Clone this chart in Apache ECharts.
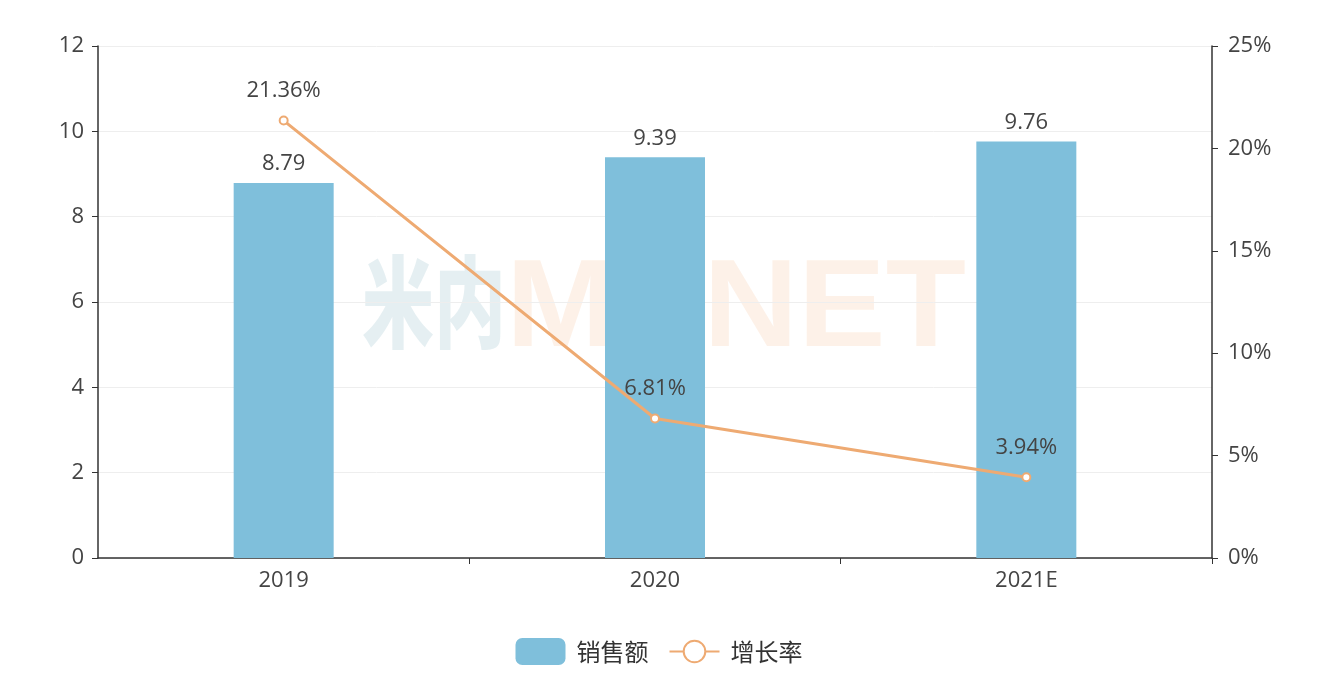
<!DOCTYPE html>
<html><head><meta charset="utf-8">
<script src="https://cdn.jsdelivr.net/npm/echarts@6/dist/echarts.min.js"></script>
<style>html,body{margin:0;padding:0;background:#fff}#c{width:1318px;height:692px}</style>
</head><body><div id="c"></div>
<script>
const categories = ['2019', '2020', '2021E'];
const sales = [8.79, 9.39, 9.76];
const growth = [21.36, 6.81, 3.94];
const leftTicks = [0, 12, 2];
const rightTicks = [0, 25, 5];

const font = '"Open Sans", "Noto Sans CJK SC", sans-serif';
const chart = echarts.init(document.getElementById('c'));
chart.setOption({
  animation: false,
  textStyle: { fontFamily: font },
  grid: { left: 98, right: 106, top: 46, bottom: 134 },
  legend: {
    bottom: 22, left: 'center', itemWidth: 50, itemHeight: 27, itemGap: 20,
    textStyle: { fontSize: 24, color: '#333', fontFamily: '"Noto Sans CJK SC", sans-serif', padding: [0, 0, 0, 6] },
    data: ['销售额', '增长率']
  },
  graphic: [{
    type: 'group', z: 100, silent: true,
    children: [
      { type: 'text', left: 362, top: 252, scaleX: 0.72, style: { text: '米内', font: '900 100px "Noto Sans CJK SC"', fill: 'rgba(150,190,205,0.25)' } },
      { type: 'text', left: 506, top: 250, scaleX: 1.06, style: { text: 'MENET', font: 'bold 124px "Liberation Sans", Arial', fill: 'rgba(245,175,130,0.18)' } }
    ]
  }],
  xAxis: {
    type: 'category', data: categories,
    axisLine: { lineStyle: { color: '#333', width: 1.5 } },
    axisTick: { show: true, length: 6, lineStyle: { color: '#333' }, interval: function (i) { return i > 0; } },
    axisLabel: { fontSize: 22, color: '#444', margin: 12 }
  },
  yAxis: [{
    type: 'value', min: leftTicks[0], max: leftTicks[1], interval: leftTicks[2],
    axisLine: { show: true, lineStyle: { color: '#333', width: 1.5 } },
    axisTick: { show: true, length: 6 },
    axisLabel: { fontSize: 22, color: '#444', margin: 14 },
    splitLine: { lineStyle: { color: '#eee' } }
  }, {
    type: 'value', min: rightTicks[0], max: rightTicks[1], interval: rightTicks[2],
    axisLine: { show: true, lineStyle: { color: '#333', width: 1.5 } },
    axisTick: { show: true, length: 6 },
    axisLabel: { fontSize: 22, color: '#444', margin: 16, formatter: '{value}%' },
    splitLine: { show: false }
  }],
  series: [{
    name: '销售额', type: 'bar', data: sales, barWidth: 100,
    itemStyle: { color: '#7fbfdb' },
    label: { show: true, position: 'top', fontSize: 22, color: '#444', distance: 8 }
  }, {
    name: '增长率', type: 'line', yAxisIndex: 1, data: growth,
    symbol: 'circle', symbolSize: 8,
    lineStyle: { color: '#eeaa72', width: 3 },
    itemStyle: { color: '#fff', borderColor: '#eeaa72', borderWidth: 2 },
    label: { show: true, position: 'top', fontSize: 22, color: '#444', distance: 14, formatter: '{c}%' }
  }]
});
</script></body></html>
